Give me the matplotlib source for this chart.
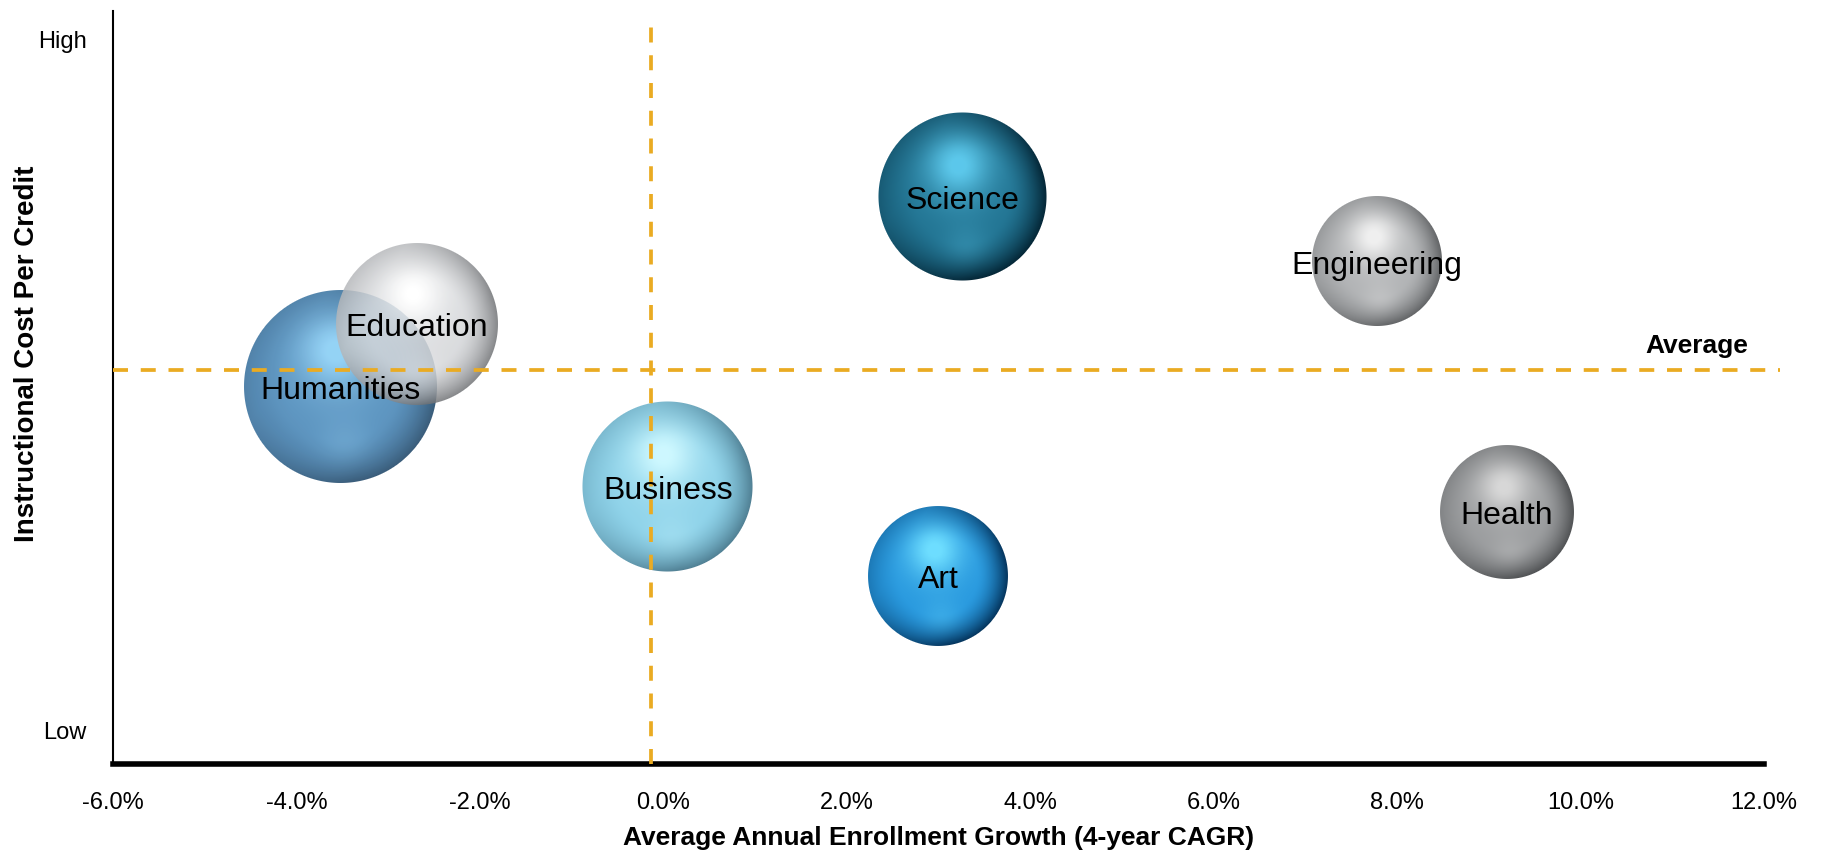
import numpy as np
import matplotlib
matplotlib.use("Agg")
import matplotlib.pyplot as plt
from matplotlib.offsetbox import OffsetImage, AnnotationBbox

plt.rcParams["font.family"] = ["Liberation Sans", "DejaVu Sans"]

# Data: enrollment growth (%), relative cost score (0 = low, 100 = high), bubble size
programs = ["Humanities", "Education", "Science", "Engineering", "Business", "Art", "Health"]
growth = [-3.52, -2.69, 3.26, 7.78, 0.05, 3.00, 9.20]
cost = [50.2, 58.5, 75.3, 66.8, 36.9, 25.0, 33.5]
size = [9.3, 6.55, 7.05, 4.22, 7.22, 4.89, 4.48]

avg_growth = -0.13
avg_cost = 52.3

x_ticks = [-6, -4, -2, 0, 2, 4, 6, 8, 10, 12]
y_ticks = [4.6, 96.4]
y_tick_labels = ["Low", "High"]

# sphere colours: (base, highlight, rim)
styles = {
    "Humanities": ((74, 134, 182), (140, 208, 246), (40, 78, 110)),
    "Education": ((208, 210, 213), (255, 255, 255), (112, 114, 117)),
    "Science": ((30, 110, 140), (92, 200, 235), (4, 38, 54)),
    "Engineering": ((172, 174, 176), (240, 240, 240), (98, 100, 102)),
    "Business": ((138, 208, 232), (205, 248, 255), (80, 128, 148)),
    "Art": ((36, 148, 220), (110, 222, 255), (4, 52, 92)),
    "Health": ((150, 152, 154), (215, 215, 215), (80, 82, 84)),
}
alphas = {"Education": 0.85, "Humanities": 0.92}


def sphere_image(base, light, dark, r_px, alpha=1.0):
    """Build an RGBA picture of a shaded ball of radius r_px pixels."""
    n = int(np.ceil(2 * r_px)) + 2
    yy, xx = np.mgrid[0:n, 0:n]
    u = (xx + 0.5 - n / 2) / r_px
    v = (yy + 0.5 - n / 2) / r_px
    d = np.sqrt(u ** 2 + v ** 2)

    base = np.array(base) / 255.0
    light = np.array(light) / 255.0
    dark = np.array(dark) / 255.0

    # soft highlight up and slightly left, faint reflection near the bottom
    hl = np.exp(-((u + 0.05) ** 2 + (v + 0.38) ** 2) / (2 * 0.26 ** 2)) * 0.8
    glow = np.exp(-((u + 0.03) ** 2 + (v + 0.25) ** 2) / (2 * 0.5 ** 2)) * 0.25
    refl = np.exp(-((u - 0.05) ** 2 + (v - 0.62) ** 2) / (2 * 0.2 ** 2)) * 0.22
    mix_l = np.clip(hl + glow + refl, 0, 1)[..., None]

    # darker rim, strongest on the right / lower right
    rim = np.clip((d - 0.55) / 0.45, 0, 1) ** 1.7
    side = 0.3 + 0.7 * np.clip((0.85 * u + 0.5 * v) / 1.2 + 0.5, 0, 1)
    mix_d = np.clip(rim * side, 0, 1)[..., None]

    rgb = base + (light - base) * mix_l
    rgb = rgb + (dark - rgb) * mix_d
    edge = np.clip((1 - d) * r_px + 0.5, 0, 1)
    return np.dstack([np.clip(rgb, 0, 1), edge * alpha])


fig = plt.figure(figsize=(18.22, 8.53), dpi=100)
ax = fig.add_axes([0.062, 0.103, 0.906, 0.883])
ax.set_xlim(-6, 12)
ax.set_ylim(0, 100)

# bubbles
px_per_unit = 31.64
for i, name in enumerate(programs):
    r_px = px_per_unit * np.sqrt(size[i])
    base, light, dark = styles[name]
    img = sphere_image(base, light, dark, r_px, alphas.get(name, 1.0))
    ab = AnnotationBbox(OffsetImage(img, zoom=1, dpi_cor=False),
                        (growth[i], cost[i]), frameon=False, pad=0,
                        zorder=2 + i * 0.01)
    ax.add_artist(ab)
    ax.text(growth[i], cost[i], name, ha="center", va="center_baseline",
            fontsize=23, color="black", zorder=7)

# average lines
avg_color = "#EAAB22"
ax.axhline(avg_cost, xmin=0, xmax=1.01, color=avg_color, lw=2.7,
           dashes=(4.0, 3.4), clip_on=False, zorder=5)
ax.axvline(avg_growth, ymin=0, ymax=0.992, color=avg_color, lw=2.7,
           dashes=(4.0, 3.4), zorder=5)
ax.annotate("Average", xy=(12, avg_cost), xytext=(-11, 18),
            textcoords="offset points", ha="right", va="center",
            fontsize=19, fontweight="bold")

# axes styling
ax.spines["top"].set_visible(False)
ax.spines["right"].set_visible(False)
ax.spines["bottom"].set_linewidth(4)
ax.spines["left"].set_linewidth(1.5)
ax.set_xticks(x_ticks)
ax.set_xticklabels([f"{v:.1f}%" for v in x_ticks])
ax.set_yticks(y_ticks)
ax.set_yticklabels(y_tick_labels)
ax.tick_params(axis="both", length=0, labelsize=17)
ax.tick_params(axis="x", pad=19)
ax.tick_params(axis="y", pad=19)

ax.set_xlabel("Average Annual Enrollment Growth (4-year CAGR)",
              fontsize=19, fontweight="bold", labelpad=9)
ax.set_ylabel("Instructional Cost Per Credit", fontsize=20,
              fontweight="bold")
ax.yaxis.set_label_coords(-0.044, 0.546)

fig.savefig("out.png", dpi=100)
